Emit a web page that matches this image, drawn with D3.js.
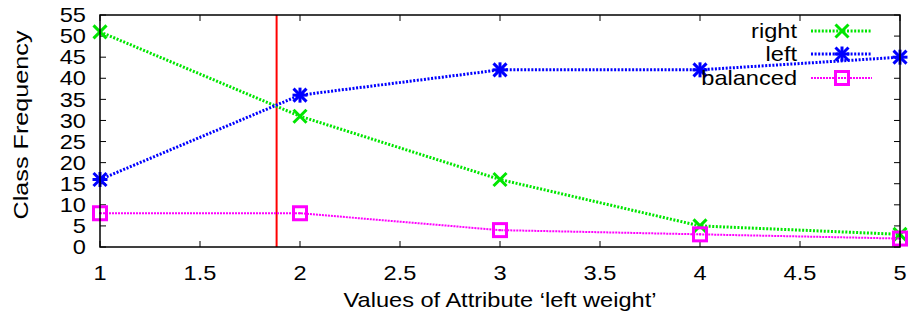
<!DOCTYPE html>
<html><head><meta charset="utf-8">
<script src="https://cdn.jsdelivr.net/npm/d3@7"></script>
<style>body{margin:0;background:#fff}svg{display:block}text{font-family:"Liberation Sans",Arial,sans-serif;fill:#000}</style>
</head><body><svg id="c" width="914" height="322"></svg>
<script>
const xValues = [1, 2, 3, 4, 5];
const rightValues = [51, 31, 16, 5, 3];
const leftValues = [16, 36, 42, 42, 45];
const balancedValues = [8, 8, 4, 3, 2];
const xTicks = [1, 1.5, 2, 2.5, 3, 3.5, 4, 4.5, 5];
const yTicks = [0, 5, 10, 15, 20, 25, 30, 35, 40, 45, 50, 55];
const splitValue = 1.883;
const seriesNames = ["right", "left", "balanced"];

const svg = d3.select("#c");
const L = 100, R = 900, T = 15, B = 247;
const FS = 20, SX = 1.18;
const x = d3.scaleLinear().domain([1, 5]).range([L, R]);
const y = d3.scaleLinear().domain([0, 55]).range([B, T]);

const series = [
  {name: seriesNames[0], vals: rightValues, color: "#00e600", width: 3, dash: "2,1.6", marker: "x"},
  {name: seriesNames[1], vals: leftValues, color: "#0000ff", width: 3, dash: "2,1.6", marker: "star"},
  {name: seriesNames[2], vals: balancedValues, color: "#ff00ff", width: 2, dash: "2,1", marker: "box"}
];

function label(tx, ty, str, anchor, sx) {
  return svg.append("text")
    .attr("transform", `translate(${tx},${ty}) scale(${sx || SX},1)`)
    .attr("text-anchor", anchor).attr("font-size", FS).text(str);
}

// ticks (inside, mirrored)
const tg = svg.append("g").attr("stroke", "#000").attr("stroke-width", 1);
xTicks.forEach(t => {
  tg.append("line").attr("x1", x(t)).attr("x2", x(t)).attr("y1", B).attr("y2", B - 6);
  tg.append("line").attr("x1", x(t)).attr("x2", x(t)).attr("y1", T).attr("y2", T + 6);
});
yTicks.forEach(t => {
  tg.append("line").attr("x1", L).attr("x2", L + 6).attr("y1", y(t)).attr("y2", y(t));
  tg.append("line").attr("x1", R).attr("x2", R - 6).attr("y1", y(t)).attr("y2", y(t));
});

xTicks.forEach(t => label(x(t), 280, String(t), "middle"));
yTicks.forEach(t => label(86, y(t) + 7.2, String(t), "end"));

label(500, 307, "Values of Attribute ‘left weight’", "middle");
svg.append("text").attr("transform", "translate(28,125) rotate(-90) scale(1.26,1)").attr("text-anchor", "middle")
  .attr("font-size", FS).text("Class Frequency");

// split line
svg.append("line").attr("x1", x(splitValue)).attr("x2", x(splitValue)).attr("y1", T).attr("y2", B)
  .attr("stroke", "#ff0000").attr("stroke-width", 2);

const line = d3.line().x((d, i) => x(xValues[i])).y(d => y(d));

function drawMarker(g, type, cx, cy, color) {
  const s = 6.5;
  if (type === "x" || type === "star") {
    g.append("line").attr("x1", cx - s).attr("y1", cy - s).attr("x2", cx + s).attr("y2", cy + s).attr("stroke", color).attr("stroke-width", 3);
    g.append("line").attr("x1", cx - s).attr("y1", cy + s).attr("x2", cx + s).attr("y2", cy - s).attr("stroke", color).attr("stroke-width", 3);
  }
  if (type === "star") {
    g.append("line").attr("x1", cx - s - 1).attr("y1", cy).attr("x2", cx + s + 1).attr("y2", cy).attr("stroke", color).attr("stroke-width", 3);
    g.append("line").attr("x1", cx).attr("y1", cy - s - 1).attr("x2", cx).attr("y2", cy + s + 1).attr("stroke", color).attr("stroke-width", 3);
  }
  if (type === "box") {
    g.append("rect").attr("x", cx - 6.5).attr("y", cy - 6.5).attr("width", 13).attr("height", 13)
      .attr("fill", "none").attr("stroke", color).attr("stroke-width", 3);
    g.append("rect").attr("x", cx - 1).attr("y", cy - 1).attr("width", 2).attr("height", 2).attr("fill", color);
  }
}

series.forEach(s => {
  svg.append("path").datum(s.vals).attr("d", line).attr("fill", "none")
    .attr("stroke", s.color).attr("stroke-width", s.width).attr("stroke-dasharray", s.dash);
  const g = svg.append("g");
  s.vals.forEach((v, i) => drawMarker(g, s.marker, x(xValues[i]), y(v), s.color));
});

// legend
const legY = [31, 54, 78];
series.forEach((s, i) => {
  const ly = legY[i];
  label(797, ly + 7.2, s.name, "end");
  svg.append("line").attr("x1", 811).attr("x2", 872).attr("y1", ly).attr("y2", ly)
    .attr("stroke", s.color).attr("stroke-width", s.width).attr("stroke-dasharray", s.dash);
  drawMarker(svg.append("g"), s.marker, 842, ly, s.color);
});

// border
svg.append("rect").attr("x", L).attr("y", T).attr("width", R - L).attr("height", B - T)
  .attr("fill", "none").attr("stroke", "#000").attr("stroke-width", 1.5);
</script></body></html>
